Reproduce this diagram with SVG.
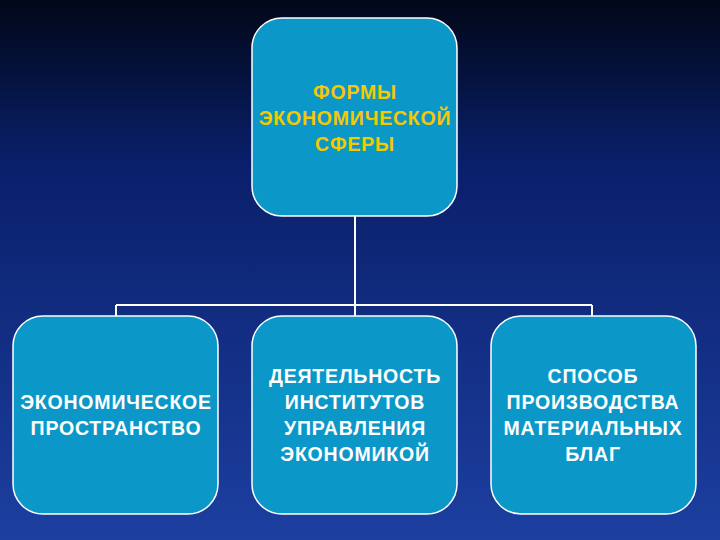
<svg xmlns="http://www.w3.org/2000/svg" width="720" height="540" viewBox="0 0 720 540">
<defs>
<linearGradient id="bg" x1="0" y1="0" x2="0" y2="1">
<stop offset="0" stop-color="#020718"/>
<stop offset="0.3" stop-color="#0a1f6a"/>
<stop offset="1" stop-color="#1c3fa0"/>
</linearGradient>
<style>
.box{fill:#0b98c8;stroke:#ffffff;stroke-width:1.5}
.t{font-family:"Liberation Sans",Arial,sans-serif;font-size:19.5px;font-weight:bold;text-anchor:middle;fill:#ffffff;letter-spacing:0.8px}
.y{fill:#f5c800}
.ln{stroke:#ffffff;stroke-width:2;fill:none}
</style>
</defs>
<rect width="720" height="540" fill="url(#bg)"/>
<g id="connectors">
<path class="ln" d="M355 216V305M116 305H592M116 305V316M355 305V316M592 305V316"/>
</g>
<g id="root">
<rect class="box" x="252" y="18" width="205" height="198" rx="30"/>
<text class="t y" x="355" y="99">ФОРМЫ</text>
<text class="t y" x="355" y="125">ЭКОНОМИЧЕСКОЙ</text>
<text class="t y" x="355" y="151">СФЕРЫ</text>
</g>
<g id="n1">
<rect class="box" x="13" y="316" width="205" height="198" rx="30"/>
<text class="t" x="116" y="409">ЭКОНОМИЧЕСКОЕ</text>
<text class="t" x="116" y="435">ПРОСТРАНСТВО</text>
</g>
<g id="n2">
<rect class="box" x="252" y="316" width="205" height="198" rx="30"/>
<text class="t" x="355" y="383">ДЕЯТЕЛЬНОСТЬ</text>
<text class="t" x="355" y="409">ИНСТИТУТОВ</text>
<text class="t" x="355" y="435">УПРАВЛЕНИЯ</text>
<text class="t" x="355" y="461">ЭКОНОМИКОЙ</text>
</g>
<g id="n3">
<rect class="box" x="491" y="316" width="205" height="198" rx="30"/>
<text class="t" x="593" y="383">СПОСОБ</text>
<text class="t" x="593" y="409">ПРОИЗВОДСТВА</text>
<text class="t" x="593" y="435">МАТЕРИАЛЬНЫХ</text>
<text class="t" x="593" y="461">БЛАГ</text>
</g>
</svg>
